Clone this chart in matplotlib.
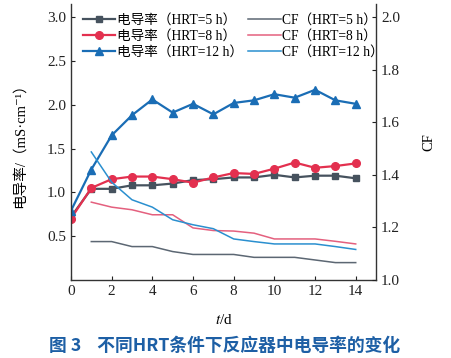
import matplotlib
matplotlib.use("Agg")
import matplotlib.pyplot as plt

days = list(range(0, 15))
cond_hrt5 = [0.72, 1.04, 1.04, 1.08, 1.08, 1.10, 1.14, 1.15, 1.17, 1.17, 1.20, 1.17, 1.19, 1.19, 1.16]
cond_hrt8 = [0.70, 1.05, 1.15, 1.18, 1.18, 1.15, 1.11, 1.17, 1.22, 1.21, 1.27, 1.34, 1.28, 1.30, 1.33]
cond_hrt12 = [0.79, 1.26, 1.65, 1.88, 2.06, 1.91, 2.01, 1.89, 2.02, 2.05, 2.12, 2.08, 2.17, 2.05, 2.01]

cf_days = list(range(1, 15))
cf_hrt5 = [1.146, 1.146, 1.127, 1.127, 1.108, 1.097, 1.097, 1.097, 1.086, 1.086, 1.086, 1.076, 1.066, 1.066]
cf_hrt8 = [1.296, 1.277, 1.267, 1.248, 1.248, 1.198, 1.188, 1.186, 1.178, 1.156, 1.156, 1.156, 1.147, 1.137]
cf_hrt12 = [1.487, 1.372, 1.305, 1.277, 1.229, 1.210, 1.195, 1.156, 1.146, 1.137, 1.137, 1.137, 1.127, 1.116]

labels_cond = ["电导率（HRT=5 h）", "电导率（HRT=8 h）", "电导率（HRT=12 h）"]
labels_cf = ["CF（HRT=5 h）", "CF（HRT=8 h）", "CF（HRT=12 h）"]

serif = ["Liberation Serif", "Noto Sans CJK SC", "DejaVu Serif"]
plt.rcParams["font.family"] = serif
plt.rcParams["mathtext.fontset"] = "stix"

c_gray = "#46525e"
c_red = "#e3304f"
c_blue = "#1a6db5"
c_gray_l = "#5c6773"
c_pink = "#e4607e"
c_blue_l = "#2a8fcf"

fig = plt.figure(figsize=(4.52, 3.58), dpi=100)
ax = fig.add_axes([0.157, 0.218, 0.675, 0.771])
ax2 = ax.twinx()

h1, = ax.plot(days, cond_hrt5, color=c_gray, marker="s", ms=4.5, lw=1.6)
h2, = ax.plot(days, cond_hrt8, color=c_red, marker="o", ms=5.5, lw=1.6)
h3, = ax.plot(days, cond_hrt12, color=c_blue, marker="^", ms=6, lw=1.6)

g1, = ax2.plot(cf_days, cf_hrt5, color=c_gray_l, lw=1.1)
g2, = ax2.plot(cf_days, cf_hrt8, color=c_pink, lw=1.1)
g3, = ax2.plot(cf_days, cf_hrt12, color=c_blue_l, lw=1.1)

ax.set_xlim(0, 15)
ax.set_ylim(0, 3.15)
ax2.set_ylim(1.0, 2.05)
ax.set_xticks(range(0, 15, 2))
ax.set_yticks([0.5, 1.0, 1.5, 2.0, 2.5, 3.0])
ax2.set_yticks([1.0, 1.2, 1.4, 1.6, 1.8, 2.0])
ax.yaxis.set_major_formatter(matplotlib.ticker.FormatStrFormatter("%.1f"))
ax2.yaxis.set_major_formatter(matplotlib.ticker.FormatStrFormatter("%.1f"))

for a in (ax, ax2):
    a.spines["top"].set_visible(False)
    for s in a.spines.values():
        s.set_color("#333333")
        s.set_linewidth(1.0)
ax.spines["right"].set_visible(False)
ax2.spines["left"].set_visible(False)
ax2.spines["bottom"].set_visible(False)

ax.tick_params(axis="both", direction="in", length=3, width=0.8, labelsize=11, colors="#222222")
ax2.tick_params(axis="y", direction="in", length=3, width=0.8, labelsize=11, colors="#222222")

ax.set_xlabel("$t$/d", fontsize=11, labelpad=11)
ax.set_ylabel("电导率/（mS·cm⁻¹）", fontsize=10.5, labelpad=15)
ax2.set_ylabel("CF", fontsize=10.5, labelpad=16)

leg = ax.legend([h1, h2, h3, g1, g2, g3], labels_cond + labels_cf, ncol=2,
                loc="upper left", bbox_to_anchor=(0.02, 0.985), frameon=False,
                fontsize=9.8, handlelength=2.4, handletextpad=0.1, columnspacing=0.4,
                labelspacing=0.22, borderaxespad=0.0)

fig.text(0.497, 0.033, "图 3    不同HRT条件下反应器中电导率的变化", ha="center", va="center",
         fontsize=12.8, fontweight="bold", color="#1d5fa5",
         family=["Noto Sans CJK SC", "DejaVu Sans"])

fig.savefig("out.png", dpi=100)
